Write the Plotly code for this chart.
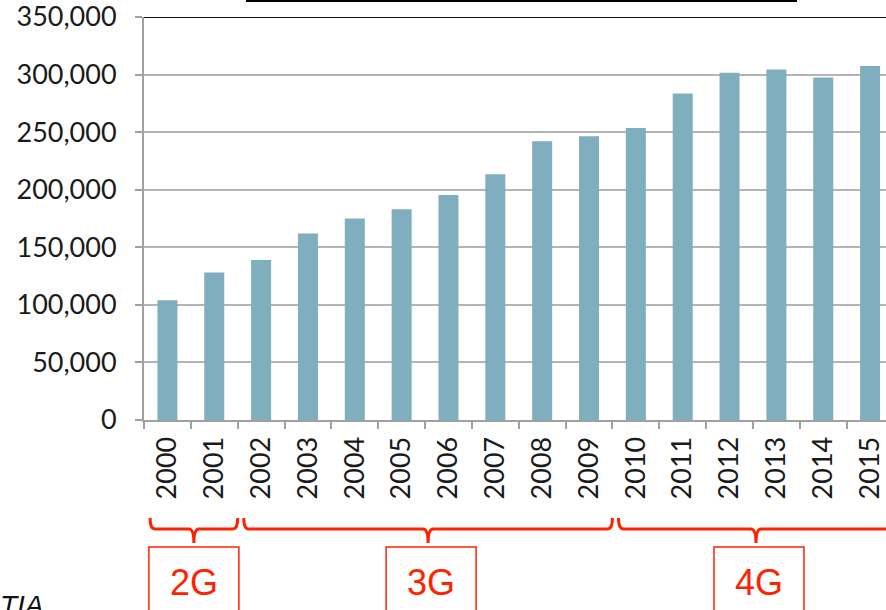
import plotly.graph_objects as go

years = [str(y) for y in range(2000, 2016)]
values = [104000, 128000, 139000, 162000, 175000, 183000, 195500, 213500,
          242000, 246500, 253500, 283500, 301500, 304500, 297500, 307500]
y_ticks = [0, 50000, 100000, 150000, 200000, 250000, 300000, 350000]
y_tick_labels = ["0", "50,000", "100,000", "150,000", "200,000", "250,000", "300,000", "350,000"]
gen_labels = ["2G", "3G", "4G"]
gen_spans = [(-0.5, 1.5), (1.5, 9.5), (9.5, 15.5)]

W, H = 886, 610
L, T, B, R = 144, 17, 190, 0
x_range = [-0.5, 15.34]
y_range = [0, 350001]
pw = W - L - R
ph = H - T - B
RED = "#FF2200"

def cat_px(c):
    return L + (c - x_range[0]) / (x_range[1] - x_range[0]) * pw

def X(px):
    return (px - L) / pw

def Y(py):
    return (H - B - py) / ph

fig = go.Figure(go.Bar(x=years, y=values, marker=dict(color="#7FAEBE", line=dict(width=0))))

shapes = []
annotations = []
cw = pw / (x_range[1] - x_range[0])
for lab, (a, b) in zip(gen_labels, gen_spans):
    x0 = cat_px(a) + 0.13 * cw
    x1 = cat_px(b)
    xc = (x0 + x1) / 2
    yt, ym, yb, r = 518, 529, 543, 5
    path = (f"M {X(x0)},{Y(yt)} Q {X(x0)},{Y(ym)} {X(x0 + r)},{Y(ym)} "
            f"L {X(xc - r)},{Y(ym)} Q {X(xc)},{Y(ym)} {X(xc)},{Y(yb)} "
            f"Q {X(xc)},{Y(ym)} {X(xc + r)},{Y(ym)} "
            f"L {X(x1 - r)},{Y(ym)} Q {X(x1)},{Y(ym)} {X(x1)},{Y(yt)}")
    shapes.append(dict(type="path", xref="paper", yref="paper", path=path,
                       line=dict(color=RED, width=3)))
    bx = xc + (0 if lab == "2G" else 3)
    shapes.append(dict(type="rect", xref="paper", yref="paper",
                       x0=X(bx - 45), x1=X(bx + 45), y0=Y(547), y1=Y(650),
                       line=dict(color=RED, width=1.5)))
    annotations.append(dict(text=lab, xref="paper", yref="paper", x=X(bx), y=Y(582),
                            xanchor="center", yanchor="middle", showarrow=False,
                            font=dict(family="Liberation Sans, Arial", size=36, color=RED)))

# top black rule (350,000 line) and cut-off title underline
shapes.append(dict(type="line", xref="paper", yref="y", x0=0, x1=1, y0=350000, y1=350000,
                   line=dict(color="#111111", width=2)))
shapes.append(dict(type="line", xref="paper", yref="paper", x0=X(246), x1=X(797),
                   y0=Y(1), y1=Y(1), line=dict(color="#000000", width=2)))

annotations.append(dict(text="<i>TIA</i>", xref="paper", yref="paper", x=X(-2), y=Y(588),
                        xanchor="left", yanchor="top", showarrow=False,
                        font=dict(family="Liberation Sans, Arial", size=28, color="#111111")))

fig.update_layout(
    width=W, height=H,
    margin=dict(l=L, r=R, t=T, b=B, pad=0),
    paper_bgcolor="white", plot_bgcolor="white",
    showlegend=False,
    bargap=0.573,
    shapes=shapes,
    annotations=annotations,
    font=dict(family="Lato", size=27, color="#1a1a1a"),
    xaxis=dict(type="category", range=x_range, tickangle=-90, tickson="boundaries",
               ticks="outside", ticklen=7, tickwidth=1.5, tickcolor="#A0A0A0",
               showline=True, linecolor="#A0A0A0", linewidth=2, showgrid=False,
               ticklabelstandoff=4,
               tickfont=dict(family="Lato", size=27, color="#1a1a1a")),
    yaxis=dict(range=y_range, tickvals=y_ticks, ticktext=y_tick_labels,
               ticks="outside", ticklen=7, tickwidth=1.5, tickcolor="#A0A0A0",
               showline=True, linecolor="#A0A0A0", linewidth=2,
               showgrid=True, gridcolor="#B4B4B4", gridwidth=1.5, zeroline=False,
               ticklabelstandoff=13, ticklabeloverflow="allow",
               tickfont=dict(family="Lato", size=27, color="#1a1a1a")),
)

fig.write_html("out.html", config={"displayModeBar": False},
               post_script="document.body.style.margin='0';")
